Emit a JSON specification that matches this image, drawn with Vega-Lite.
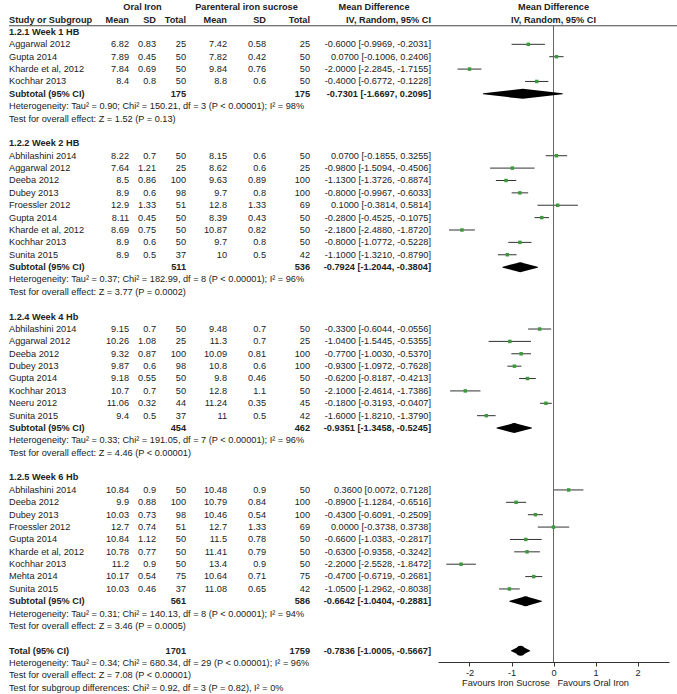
{
"$schema":"https://vega.github.io/schema/vega-lite/v6.json",
"padding":{"left":8,"top":1,"right":0,"bottom":0},
"bounds":"flush",
"config":{"view":{"stroke":null},"concat":{"spacing":0},"text":{"font":"Liberation Sans","fontSize":9.2,"color":"#222","baseline":"middle"},
"axisX":{"titleFont":"Liberation Sans","titleFontSize":9.2,"titleFontWeight":"normal","titleColor":"#222","titlePadding":1,"labelFont":"Liberation Sans","labelFontSize":9.2,"labelColor":"#222","labelPadding":2,"tickSize":4,"tickColor":"#333","domainColor":"#333","grid":false,"labelFlush":false,"labelOverlap":false}},
"resolve":{"scale":{"x":"independent","y":"independent"}},
"data":{"values":[
{"r":-2,"k":"h1","osd":"Oral Iron","psd":"Parenteral iron sucrose","ci":"Mean Difference","fp":"Mean Difference"},
{"r":-1,"k":"h2","s":"Study or Subgroup","om":"Mean","osd":"SD","on":"Total","pm":"Mean","psd":"SD","pn":"Total","ci":"IV, Random, 95% CI","fp":"IV, Random, 95% CI"},
{"r":0,"k":"sec","s":"1.2.1 Week 1 HB"},
{"r":1,"k":"st","s":"Aggarwal 2012","om":"6.82","osd":"0.83","on":"25","pm":"7.42","psd":"0.58","pn":"25","ci":"-0.6000 [-0.9969, -0.2031]","md":-0.6,"lo":-0.9969,"hi":-0.2031},
{"r":2,"k":"st","s":"Gupta 2014","om":"7.89","osd":"0.45","on":"50","pm":"7.82","psd":"0.42","pn":"50","ci":"0.0700 [-0.1006, 0.2406]","md":0.07,"lo":-0.1006,"hi":0.2406},
{"r":3,"k":"st","s":"Kharde et al, 2012","om":"7.84","osd":"0.69","on":"50","pm":"9.84","psd":"0.76","pn":"50","ci":"-2.0000 [-2.2845, -1.7155]","md":-2,"lo":-2.2845,"hi":-1.7155},
{"r":4,"k":"st","s":"Kochhar 2013","om":"8.4","osd":"0.8","on":"50","pm":"8.8","psd":"0.6","pn":"50","ci":"-0.4000 [-0.6772, -0.1228]","md":-0.4,"lo":-0.6772,"hi":-0.1228},
{"r":5,"k":"sub","s":"Subtotal (95% CI)","on":"175","pn":"175","ci":"-0.7301 [-1.6697, 0.2095]","md":-0.7301,"lo":-1.6697,"hi":0.2095},
{"r":6,"k":"note","s":"Heterogeneity: Tau² = 0.90; Chi² = 150.21, df = 3 (P < 0.00001); I² = 98%"},
{"r":7,"k":"note","s":"Test for overall effect: Z = 1.52 (P = 0.13)"},
{"r":9,"k":"sec","s":"1.2.2 Week 2 HB"},
{"r":10,"k":"st","s":"Abhilashini 2014","om":"8.22","osd":"0.7","on":"50","pm":"8.15","psd":"0.6","pn":"50","ci":"0.0700 [-0.1855, 0.3255]","md":0.07,"lo":-0.1855,"hi":0.3255},
{"r":11,"k":"st","s":"Aggarwal 2012","om":"7.64","osd":"1.21","on":"25","pm":"8.62","psd":"0.6","pn":"25","ci":"-0.9800 [-1.5094, -0.4506]","md":-0.98,"lo":-1.5094,"hi":-0.4506},
{"r":12,"k":"st","s":"Deeba 2012","om":"8.5","osd":"0.86","on":"100","pm":"9.63","psd":"0.89","pn":"100","ci":"-1.1300 [-1.3726, -0.8874]","md":-1.13,"lo":-1.3726,"hi":-0.8874},
{"r":13,"k":"st","s":"Dubey 2013","om":"8.9","osd":"0.6","on":"98","pm":"9.7","psd":"0.8","pn":"100","ci":"-0.8000 [-0.9967, -0.6033]","md":-0.8,"lo":-0.9967,"hi":-0.6033},
{"r":14,"k":"st","s":"Froessler 2012","om":"12.9","osd":"1.33","on":"51","pm":"12.8","psd":"1.33","pn":"69","ci":"0.1000 [-0.3814, 0.5814]","md":0.1,"lo":-0.3814,"hi":0.5814},
{"r":15,"k":"st","s":"Gupta 2014","om":"8.11","osd":"0.45","on":"50","pm":"8.39","psd":"0.43","pn":"50","ci":"-0.2800 [-0.4525, -0.1075]","md":-0.28,"lo":-0.4525,"hi":-0.1075},
{"r":16,"k":"st","s":"Kharde et al, 2012","om":"8.69","osd":"0.75","on":"50","pm":"10.87","psd":"0.82","pn":"50","ci":"-2.1800 [-2.4880, -1.8720]","md":-2.18,"lo":-2.488,"hi":-1.872},
{"r":17,"k":"st","s":"Kochhar 2013","om":"8.9","osd":"0.6","on":"50","pm":"9.7","psd":"0.8","pn":"50","ci":"-0.8000 [-1.0772, -0.5228]","md":-0.8,"lo":-1.0772,"hi":-0.5228},
{"r":18,"k":"st","s":"Sunita 2015","om":"8.9","osd":"0.5","on":"37","pm":"10","psd":"0.5","pn":"42","ci":"-1.1000 [-1.3210, -0.8790]","md":-1.1,"lo":-1.321,"hi":-0.879},
{"r":19,"k":"sub","s":"Subtotal (95% CI)","on":"511","pn":"536","ci":"-0.7924 [-1.2044, -0.3804]","md":-0.7924,"lo":-1.2044,"hi":-0.3804},
{"r":20,"k":"note","s":"Heterogeneity: Tau² = 0.37; Chi² = 182.99, df = 8 (P < 0.00001); I² = 96%"},
{"r":21,"k":"note","s":"Test for overall effect: Z = 3.77 (P = 0.0002)"},
{"r":23,"k":"sec","s":"1.2.4 Week 4 Hb"},
{"r":24,"k":"st","s":"Abhilashini 2014","om":"9.15","osd":"0.7","on":"50","pm":"9.48","psd":"0.7","pn":"50","ci":"-0.3300 [-0.6044, -0.0556]","md":-0.33,"lo":-0.6044,"hi":-0.0556},
{"r":25,"k":"st","s":"Aggarwal 2012","om":"10.26","osd":"1.08","on":"25","pm":"11.3","psd":"0.7","pn":"25","ci":"-1.0400 [-1.5445, -0.5355]","md":-1.04,"lo":-1.5445,"hi":-0.5355},
{"r":26,"k":"st","s":"Deeba 2012","om":"9.32","osd":"0.87","on":"100","pm":"10.09","psd":"0.81","pn":"100","ci":"-0.7700 [-1.0030, -0.5370]","md":-0.77,"lo":-1.003,"hi":-0.537},
{"r":27,"k":"st","s":"Dubey 2013","om":"9.87","osd":"0.6","on":"98","pm":"10.8","psd":"0.6","pn":"100","ci":"-0.9300 [-1.0972, -0.7628]","md":-0.93,"lo":-1.0972,"hi":-0.7628},
{"r":28,"k":"st","s":"Gupta 2014","om":"9.18","osd":"0.55","on":"50","pm":"9.8","psd":"0.46","pn":"50","ci":"-0.6200 [-0.8187, -0.4213]","md":-0.62,"lo":-0.8187,"hi":-0.4213},
{"r":29,"k":"st","s":"Kochhar 2013","om":"10.7","osd":"0.7","on":"50","pm":"12.8","psd":"1.1","pn":"50","ci":"-2.1000 [-2.4614, -1.7386]","md":-2.1,"lo":-2.4614,"hi":-1.7386},
{"r":30,"k":"st","s":"Neeru 2012","om":"11.06","osd":"0.32","on":"44","pm":"11.24","psd":"0.35","pn":"45","ci":"-0.1800 [-0.3193, -0.0407]","md":-0.18,"lo":-0.3193,"hi":-0.0407},
{"r":31,"k":"st","s":"Sunita 2015","om":"9.4","osd":"0.5","on":"37","pm":"11","psd":"0.5","pn":"42","ci":"-1.6000 [-1.8210, -1.3790]","md":-1.6,"lo":-1.821,"hi":-1.379},
{"r":32,"k":"sub","s":"Subtotal (95% CI)","on":"454","pn":"462","ci":"-0.9351 [-1.3458, -0.5245]","md":-0.9351,"lo":-1.3458,"hi":-0.5245},
{"r":33,"k":"note","s":"Heterogeneity: Tau² = 0.33; Chi² = 191.05, df = 7 (P < 0.00001); I² = 96%"},
{"r":34,"k":"note","s":"Test for overall effect: Z = 4.46 (P < 0.00001)"},
{"r":36,"k":"sec","s":"1.2.5 Week 6 Hb"},
{"r":37,"k":"st","s":"Abhilashini 2014","om":"10.84","osd":"0.9","on":"50","pm":"10.48","psd":"0.9","pn":"50","ci":"0.3600 [0.0072, 0.7128]","md":0.36,"lo":0.0072,"hi":0.7128},
{"r":38,"k":"st","s":"Deeba 2012","om":"9.9","osd":"0.88","on":"100","pm":"10.79","psd":"0.84","pn":"100","ci":"-0.8900 [-1.1284, -0.6516]","md":-0.89,"lo":-1.1284,"hi":-0.6516},
{"r":39,"k":"st","s":"Dubey 2013","om":"10.03","osd":"0.73","on":"98","pm":"10.46","psd":"0.54","pn":"100","ci":"-0.4300 [-0.6091, -0.2509]","md":-0.43,"lo":-0.6091,"hi":-0.2509},
{"r":40,"k":"st","s":"Froessler 2012","om":"12.7","osd":"0.74","on":"51","pm":"12.7","psd":"1.33","pn":"69","ci":"0.0000 [-0.3738, 0.3738]","md":0,"lo":-0.3738,"hi":0.3738},
{"r":41,"k":"st","s":"Gupta 2014","om":"10.84","osd":"1.12","on":"50","pm":"11.5","psd":"0.78","pn":"50","ci":"-0.6600 [-1.0383, -0.2817]","md":-0.66,"lo":-1.0383,"hi":-0.2817},
{"r":42,"k":"st","s":"Kharde et al, 2012","om":"10.78","osd":"0.77","on":"50","pm":"11.41","psd":"0.79","pn":"50","ci":"-0.6300 [-0.9358, -0.3242]","md":-0.63,"lo":-0.9358,"hi":-0.3242},
{"r":43,"k":"st","s":"Kochhar 2013","om":"11.2","osd":"0.9","on":"50","pm":"13.4","psd":"0.9","pn":"50","ci":"-2.2000 [-2.5528, -1.8472]","md":-2.2,"lo":-2.5528,"hi":-1.8472},
{"r":44,"k":"st","s":"Mehta 2014","om":"10.17","osd":"0.54","on":"75","pm":"10.64","psd":"0.71","pn":"75","ci":"-0.4700 [-0.6719, -0.2681]","md":-0.47,"lo":-0.6719,"hi":-0.2681},
{"r":45,"k":"st","s":"Sunita 2015","om":"10.03","osd":"0.46","on":"37","pm":"11.08","psd":"0.65","pn":"42","ci":"-1.0500 [-1.2962, -0.8038]","md":-1.05,"lo":-1.2962,"hi":-0.8038},
{"r":46,"k":"sub","s":"Subtotal (95% CI)","on":"561","pn":"586","ci":"-0.6642 [-1.0404, -0.2881]","md":-0.6642,"lo":-1.0404,"hi":-0.2881},
{"r":47,"k":"note","s":"Heterogeneity: Tau² = 0.31; Chi² = 140.13, df = 8 (P < 0.00001); I² = 94%"},
{"r":48,"k":"note","s":"Test for overall effect: Z = 3.46 (P = 0.0005)"},
{"r":50,"k":"tot","s":"Total (95% CI)","on":"1701","pn":"1759","ci":"-0.7836 [-1.0005, -0.5667]","md":-0.7836,"lo":-1.0005,"hi":-0.5667},
{"r":51,"k":"note","s":"Heterogeneity: Tau² = 0.34; Chi² = 680.34, df = 29 (P < 0.00001); I² = 96%"},
{"r":52,"k":"note","s":"Test for overall effect: Z = 7.08 (P < 0.00001)"},
{"r":53,"k":"note","s":"Test for subgroup differences: Chi² = 0.92, df = 3 (P = 0.82), I² = 0%"}
]},
"hconcat":[
{"width":92,"height":693,"encoding":{"y":{"field":"r","type":"quantitative","scale":{"domain":[-2.5,53.5],"reverse":true,"nice":false,"zero":false},"axis":null}},"layer":[
 {"transform":[{"filter":"datum.k=='h2'"}],"mark":{"type":"rule","color":"#444"},"encoding":{"y":{"datum":-0.5}}},
 {"transform":[{"filter":"datum.k=='st'||datum.k=='note'"}],"mark":{"type":"text","align":"left","x":0},"encoding":{"text":{"field":"s"}}},
 {"transform":[{"filter":"datum.k=='h2'||datum.k=='sec'||datum.k=='sub'||datum.k=='tot'"}],"mark":{"type":"text","align":"left","x":0,"fontWeight":"bold"},"encoding":{"text":{"field":"s"}}}
]},
{"width":28,"height":693,"encoding":{"y":{"field":"r","type":"quantitative","scale":{"domain":[-2.5,53.5],"reverse":true,"nice":false,"zero":false},"axis":null}},"layer":[
 {"transform":[{"filter":"datum.k=='h2'"}],"mark":{"type":"rule","color":"#444"},"encoding":{"y":{"datum":-0.5}}},
 {"transform":[{"filter":"datum.k=='st' && isValid(datum.om)"}],"mark":{"type":"text","align":"right","x":"width"},"encoding":{"text":{"field":"om"}}},
 {"transform":[{"filter":"(datum.k=='h2'||datum.k=='sub'||datum.k=='tot') && isValid(datum.om)"}],"mark":{"type":"text","align":"right","x":"width","fontWeight":"bold"},"encoding":{"text":{"field":"om"}}}
]},
{"width":27,"height":693,"encoding":{"y":{"field":"r","type":"quantitative","scale":{"domain":[-2.5,53.5],"reverse":true,"nice":false,"zero":false},"axis":null}},"layer":[
 {"transform":[{"filter":"datum.k=='h2'"}],"mark":{"type":"rule","color":"#444"},"encoding":{"y":{"datum":-0.5}}},
 {"transform":[{"filter":"datum.k=='st' && isValid(datum.osd)"}],"mark":{"type":"text","align":"right","x":"width"},"encoding":{"text":{"field":"osd"}}},
 {"transform":[{"filter":"(datum.k=='h2'||datum.k=='sub'||datum.k=='tot') && isValid(datum.osd)"}],"mark":{"type":"text","align":"right","x":"width","fontWeight":"bold"},"encoding":{"text":{"field":"osd"}}},
 {"transform":[{"filter":"datum.k=='h1'"}],"mark":{"type":"text","align":"center","fontWeight":"bold"},"encoding":{"text":{"field":"osd"}}}
]},
{"width":30,"height":693,"encoding":{"y":{"field":"r","type":"quantitative","scale":{"domain":[-2.5,53.5],"reverse":true,"nice":false,"zero":false},"axis":null}},"layer":[
 {"transform":[{"filter":"datum.k=='h2'"}],"mark":{"type":"rule","color":"#444"},"encoding":{"y":{"datum":-0.5}}},
 {"transform":[{"filter":"datum.k=='st' && isValid(datum.on)"}],"mark":{"type":"text","align":"right","x":"width"},"encoding":{"text":{"field":"on"}}},
 {"transform":[{"filter":"(datum.k=='h2'||datum.k=='sub'||datum.k=='tot') && isValid(datum.on)"}],"mark":{"type":"text","align":"right","x":"width","fontWeight":"bold"},"encoding":{"text":{"field":"on"}}}
]},
{"width":41,"height":693,"encoding":{"y":{"field":"r","type":"quantitative","scale":{"domain":[-2.5,53.5],"reverse":true,"nice":false,"zero":false},"axis":null}},"layer":[
 {"transform":[{"filter":"datum.k=='h2'"}],"mark":{"type":"rule","color":"#444"},"encoding":{"y":{"datum":-0.5}}},
 {"transform":[{"filter":"datum.k=='st' && isValid(datum.pm)"}],"mark":{"type":"text","align":"right","x":"width"},"encoding":{"text":{"field":"pm"}}},
 {"transform":[{"filter":"(datum.k=='h2'||datum.k=='sub'||datum.k=='tot') && isValid(datum.pm)"}],"mark":{"type":"text","align":"right","x":"width","fontWeight":"bold"},"encoding":{"text":{"field":"pm"}}}
]},
{"width":39,"height":693,"encoding":{"y":{"field":"r","type":"quantitative","scale":{"domain":[-2.5,53.5],"reverse":true,"nice":false,"zero":false},"axis":null}},"layer":[
 {"transform":[{"filter":"datum.k=='h2'"}],"mark":{"type":"rule","color":"#444"},"encoding":{"y":{"datum":-0.5}}},
 {"transform":[{"filter":"datum.k=='st' && isValid(datum.psd)"}],"mark":{"type":"text","align":"right","x":"width"},"encoding":{"text":{"field":"psd"}}},
 {"transform":[{"filter":"(datum.k=='h2'||datum.k=='sub'||datum.k=='tot') && isValid(datum.psd)"}],"mark":{"type":"text","align":"right","x":"width","fontWeight":"bold"},"encoding":{"text":{"field":"psd"}}},
 {"transform":[{"filter":"datum.k=='h1'"}],"mark":{"type":"text","align":"center","fontWeight":"bold"},"encoding":{"text":{"field":"psd"}}}
]},
{"width":44,"height":693,"encoding":{"y":{"field":"r","type":"quantitative","scale":{"domain":[-2.5,53.5],"reverse":true,"nice":false,"zero":false},"axis":null}},"layer":[
 {"transform":[{"filter":"datum.k=='h2'"}],"mark":{"type":"rule","color":"#444"},"encoding":{"y":{"datum":-0.5}}},
 {"transform":[{"filter":"datum.k=='st' && isValid(datum.pn)"}],"mark":{"type":"text","align":"right","x":"width"},"encoding":{"text":{"field":"pn"}}},
 {"transform":[{"filter":"(datum.k=='h2'||datum.k=='sub'||datum.k=='tot') && isValid(datum.pn)"}],"mark":{"type":"text","align":"right","x":"width","fontWeight":"bold"},"encoding":{"text":{"field":"pn"}}}
]},
{"width":128,"height":693,"encoding":{"y":{"field":"r","type":"quantitative","scale":{"domain":[-2.5,53.5],"reverse":true,"nice":false,"zero":false},"axis":null}},"layer":[
 {"transform":[{"filter":"datum.k=='h2'"}],"mark":{"type":"rule","color":"#444"},"encoding":{"y":{"datum":-0.5}}},
 {"transform":[{"filter":"datum.k=='st' && isValid(datum.ci)"}],"mark":{"type":"text","align":"right","x":"width","dx":-7},"encoding":{"text":{"field":"ci"}}},
 {"transform":[{"filter":"(datum.k=='h2'||datum.k=='sub'||datum.k=='tot') && isValid(datum.ci)"}],"mark":{"type":"text","align":"right","x":"width","dx":-7,"fontWeight":"bold"},"encoding":{"text":{"field":"ci"}}},
 {"transform":[{"filter":"datum.k=='h1'"}],"mark":{"type":"text","align":"center","fontWeight":"bold"},"encoding":{"text":{"field":"ci"}}}
]},
{"width":231,"height":661,"encoding":{"y":{"field":"r","type":"quantitative","scale":{"domain":[-2.5,50.9],"reverse":true,"nice":false,"zero":false},"axis":null}},"layer":[
 {"transform":[{"filter":"datum.k=='st'"}],"mark":{"type":"rule","color":"#333"},"encoding":{"x":{"field":"lo","type":"quantitative","scale":{"domain":[-2.75,2.75],"nice":false,"zero":false},"axis":{"values":[-2,-1,0,1,2],"labelExpr":"''+datum.value","title":"Favours Iron Sucrose\u00a0\u00a0\u00a0Favours Oral Iron","titleX":107}},"x2":{"field":"hi"}}},
 {"transform":[{"filter":"datum.k=='h2'"}],"mark":{"type":"rule","color":"#444"},"encoding":{"y":{"datum":-0.5},"x":{"datum":-2.75,"type":"quantitative","scale":{"domain":[-2.75,2.75],"nice":false,"zero":false},"axis":{"values":[-2,-1,0,1,2],"labelExpr":"''+datum.value","title":"Favours Iron Sucrose\u00a0\u00a0\u00a0Favours Oral Iron","titleX":107}},"x2":{"datum":2.97}}},
 {"transform":[{"filter":"datum.k=='h2'"}],"mark":{"type":"rule","color":"#666"},"encoding":{"x":{"datum":0,"type":"quantitative","scale":{"domain":[-2.75,2.75],"nice":false,"zero":false},"axis":{"values":[-2,-1,0,1,2],"labelExpr":"''+datum.value","title":"Favours Iron Sucrose\u00a0\u00a0\u00a0Favours Oral Iron","titleX":107}},"y":{"datum":-0.5},"y2":{"datum":50.9}}},
 {"transform":[{"filter":"datum.k=='st'"}],"mark":{"type":"point","shape":"square","filled":true,"color":"#3c9a3c","size":12,"opacity":1},"encoding":{"x":{"field":"md","type":"quantitative","scale":{"domain":[-2.75,2.75],"nice":false,"zero":false},"axis":{"values":[-2,-1,0,1,2],"labelExpr":"''+datum.value","title":"Favours Iron Sucrose\u00a0\u00a0\u00a0Favours Oral Iron","titleX":107}}}},
 {"transform":[{"filter":"datum.k=='sub'||datum.k=='tot'"},{"fold":["lo","md","hi"],"as":["part","val"]}],"mark":{"type":"trail","color":"#000"},"encoding":{"x":{"field":"val","type":"quantitative","scale":{"domain":[-2.75,2.75],"nice":false,"zero":false},"axis":{"values":[-2,-1,0,1,2],"labelExpr":"''+datum.value","title":"Favours Iron Sucrose\u00a0\u00a0\u00a0Favours Oral Iron","titleX":107}},"detail":{"field":"r","type":"nominal"},"order":{"field":"val","type":"quantitative"},"size":{"condition":{"test":"datum.part=='md'","value":10},"value":0}}},
 {"transform":[{"filter":"datum.k=='h1'||datum.k=='h2'"}],"mark":{"type":"text","align":"center","fontWeight":"bold"},"encoding":{"x":{"datum":0,"type":"quantitative","scale":{"domain":[-2.75,2.75],"nice":false,"zero":false},"axis":{"values":[-2,-1,0,1,2],"labelExpr":"''+datum.value","title":"Favours Iron Sucrose\u00a0\u00a0\u00a0Favours Oral Iron","titleX":107}},"text":{"field":"fp"}}}
]}
]
}
